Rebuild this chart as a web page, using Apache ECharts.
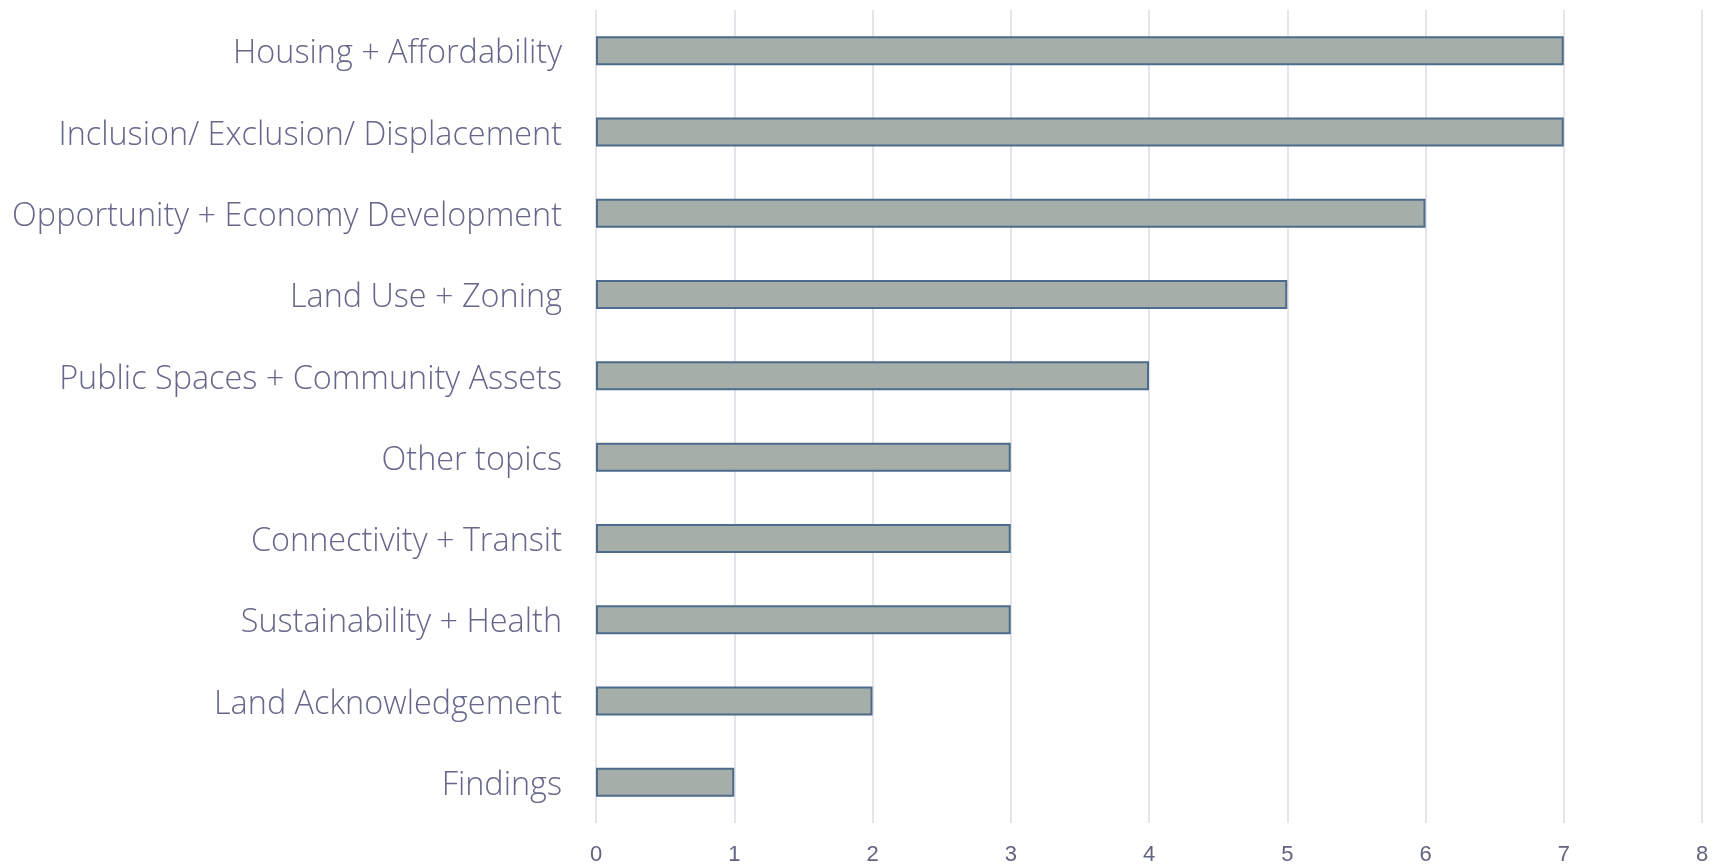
<!DOCTYPE html>
<html>
<head>
<meta charset="utf-8">
<script src="https://cdn.jsdelivr.net/npm/echarts@6/dist/echarts.min.js"></script>
<style>
html,body{margin:0;padding:0;background:#fff;}
#chart{width:1715px;height:866px;}
</style>
</head>
<body>
<div id="chart"></div>
<script>
const categories = [
  "Housing + Affordability",
  "Inclusion/ Exclusion/ Displacement",
  "Opportunity + Economy Development",
  "Land Use + Zoning",
  "Public Spaces + Community Assets",
  "Other topics",
  "Connectivity + Transit",
  "Sustainability + Health",
  "Land Acknowledgement",
  "Findings"
];
const values = [7, 7, 6, 5, 4, 3, 3, 3, 2, 1];
const xTicks = [0, 1, 2, 3, 4, 5, 6, 7, 8];

const chart = echarts.init(document.getElementById('chart'));
chart.setOption({
  animation: false,
  grid: { left: 596, right: 13, top: 10, bottom: 43, containLabel: false },
  xAxis: {
    type: 'value',
    min: xTicks[0],
    max: xTicks[xTicks.length - 1],
    interval: 1,
    axisLine: { show: false },
    axisTick: { show: false },
    splitLine: { show: true, lineStyle: { color: '#e4e4ea', width: 2 } },
    axisLabel: {
      color: '#62647f',
      fontFamily: 'Liberation Sans, Arial, sans-serif',
      fontSize: 22,
      margin: 21
    }
  },
  yAxis: {
    type: 'category',
    data: categories,
    inverse: true,
    axisLine: { show: false },
    axisTick: { show: false },
    splitLine: { show: false },
    axisLabel: {
      margin: 34,
      formatter: function (v) { return '{a|' + v + '}'; },
      rich: {
        a: {
          color: '#66678a',
          fontFamily: '"Open Sans", Lato, sans-serif',
          fontWeight: 300,
          fontSize: 32.4,
          padding: [7, 0, 0, 0]
        }
      }
    }
  },
  series: [{
    type: 'bar',
    data: values,
    barWidth: 29,
    itemStyle: {
      color: '#a5aea8',
      borderColor: '#4d6b8a',
      borderWidth: 2
    }
  }]
});
</script>
</body>
</html>
